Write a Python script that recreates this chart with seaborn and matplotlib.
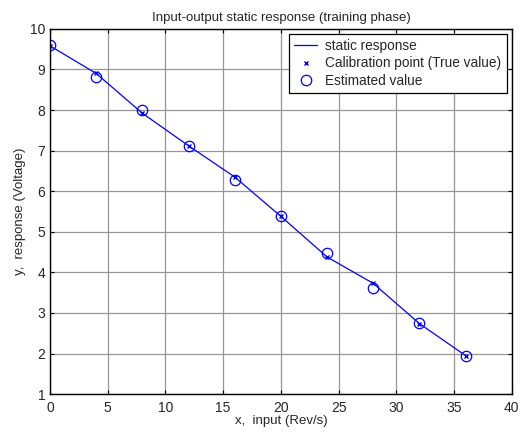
import numpy as np
import pandas as pd
import matplotlib
matplotlib.use("Agg")
import matplotlib.pyplot as plt
import seaborn as sns

# values
x_input = [0, 4, 8, 12, 16, 20, 24, 28, 32, 36]
y_true = [9.58, 8.90, 7.92, 7.12, 6.35, 5.38, 4.38, 3.73, 2.74, 1.95]
y_est = [9.60, 8.82, 8.00, 7.12, 6.27, 5.38, 4.49, 3.62, 2.76, 1.94]

sns.set_style("ticks")
plt.rcParams['font.family'] = ['Liberation Sans', 'DejaVu Sans']

df = pd.DataFrame({"x": x_input, "true": y_true, "est": y_est})

fig = plt.figure(figsize=(5.27, 4.37), dpi=100)
ax = fig.add_axes([0.095, 0.098, 0.876, 0.836])

sns.lineplot(data=df, x="x", y="true", ax=ax, color="#0000ff", linewidth=0.9,
             label="static response")
sns.lineplot(data=df, x="x", y="true", ax=ax, color="#0000ff", linestyle="none",
             marker="x", markersize=3.5, markeredgewidth=1.0,
             markeredgecolor="#0000ff",
             label="Calibration point (True value)")
sns.lineplot(data=df, x="x", y="est", ax=ax, color="#0000ff", linestyle="none",
             marker="o", markersize=7.5, markerfacecolor="none",
             markeredgecolor="#0000ff", markeredgewidth=0.9,
             label="Estimated value")

ax.set_xlim(0, 40)
ax.set_ylim(1, 10)
ax.set_xticks(np.arange(0, 41, 5))
ax.set_yticks(np.arange(1, 11, 1))
ax.grid(True, color="#969696", linewidth=0.9)
ax.set_axisbelow(True)
ax.tick_params(direction="in", top=True, right=True, labelsize=10, length=3,
               color="black")
ax.tick_params(axis="x", pad=5)
for s in ax.spines.values():
    s.set_color("black")
    s.set_linewidth(1.0)

ax.set_title("Input-output static response (training phase)", fontsize=9.5)
ax.set_xlabel("x,  input (Rev/s)", fontsize=9.5, labelpad=0)
ax.set_ylabel("y,  response (Voltage)", fontsize=9.5, labelpad=3)

leg = ax.legend(loc="upper right", fontsize=9.8, frameon=True, fancybox=False,
                borderpad=0.4, labelspacing=0.25, handlelength=1.7,
                handletextpad=0.6, borderaxespad=0.35, edgecolor="black",
                framealpha=1)
leg.get_frame().set_linewidth(0.9)

fig.savefig("out.png", dpi=100)
